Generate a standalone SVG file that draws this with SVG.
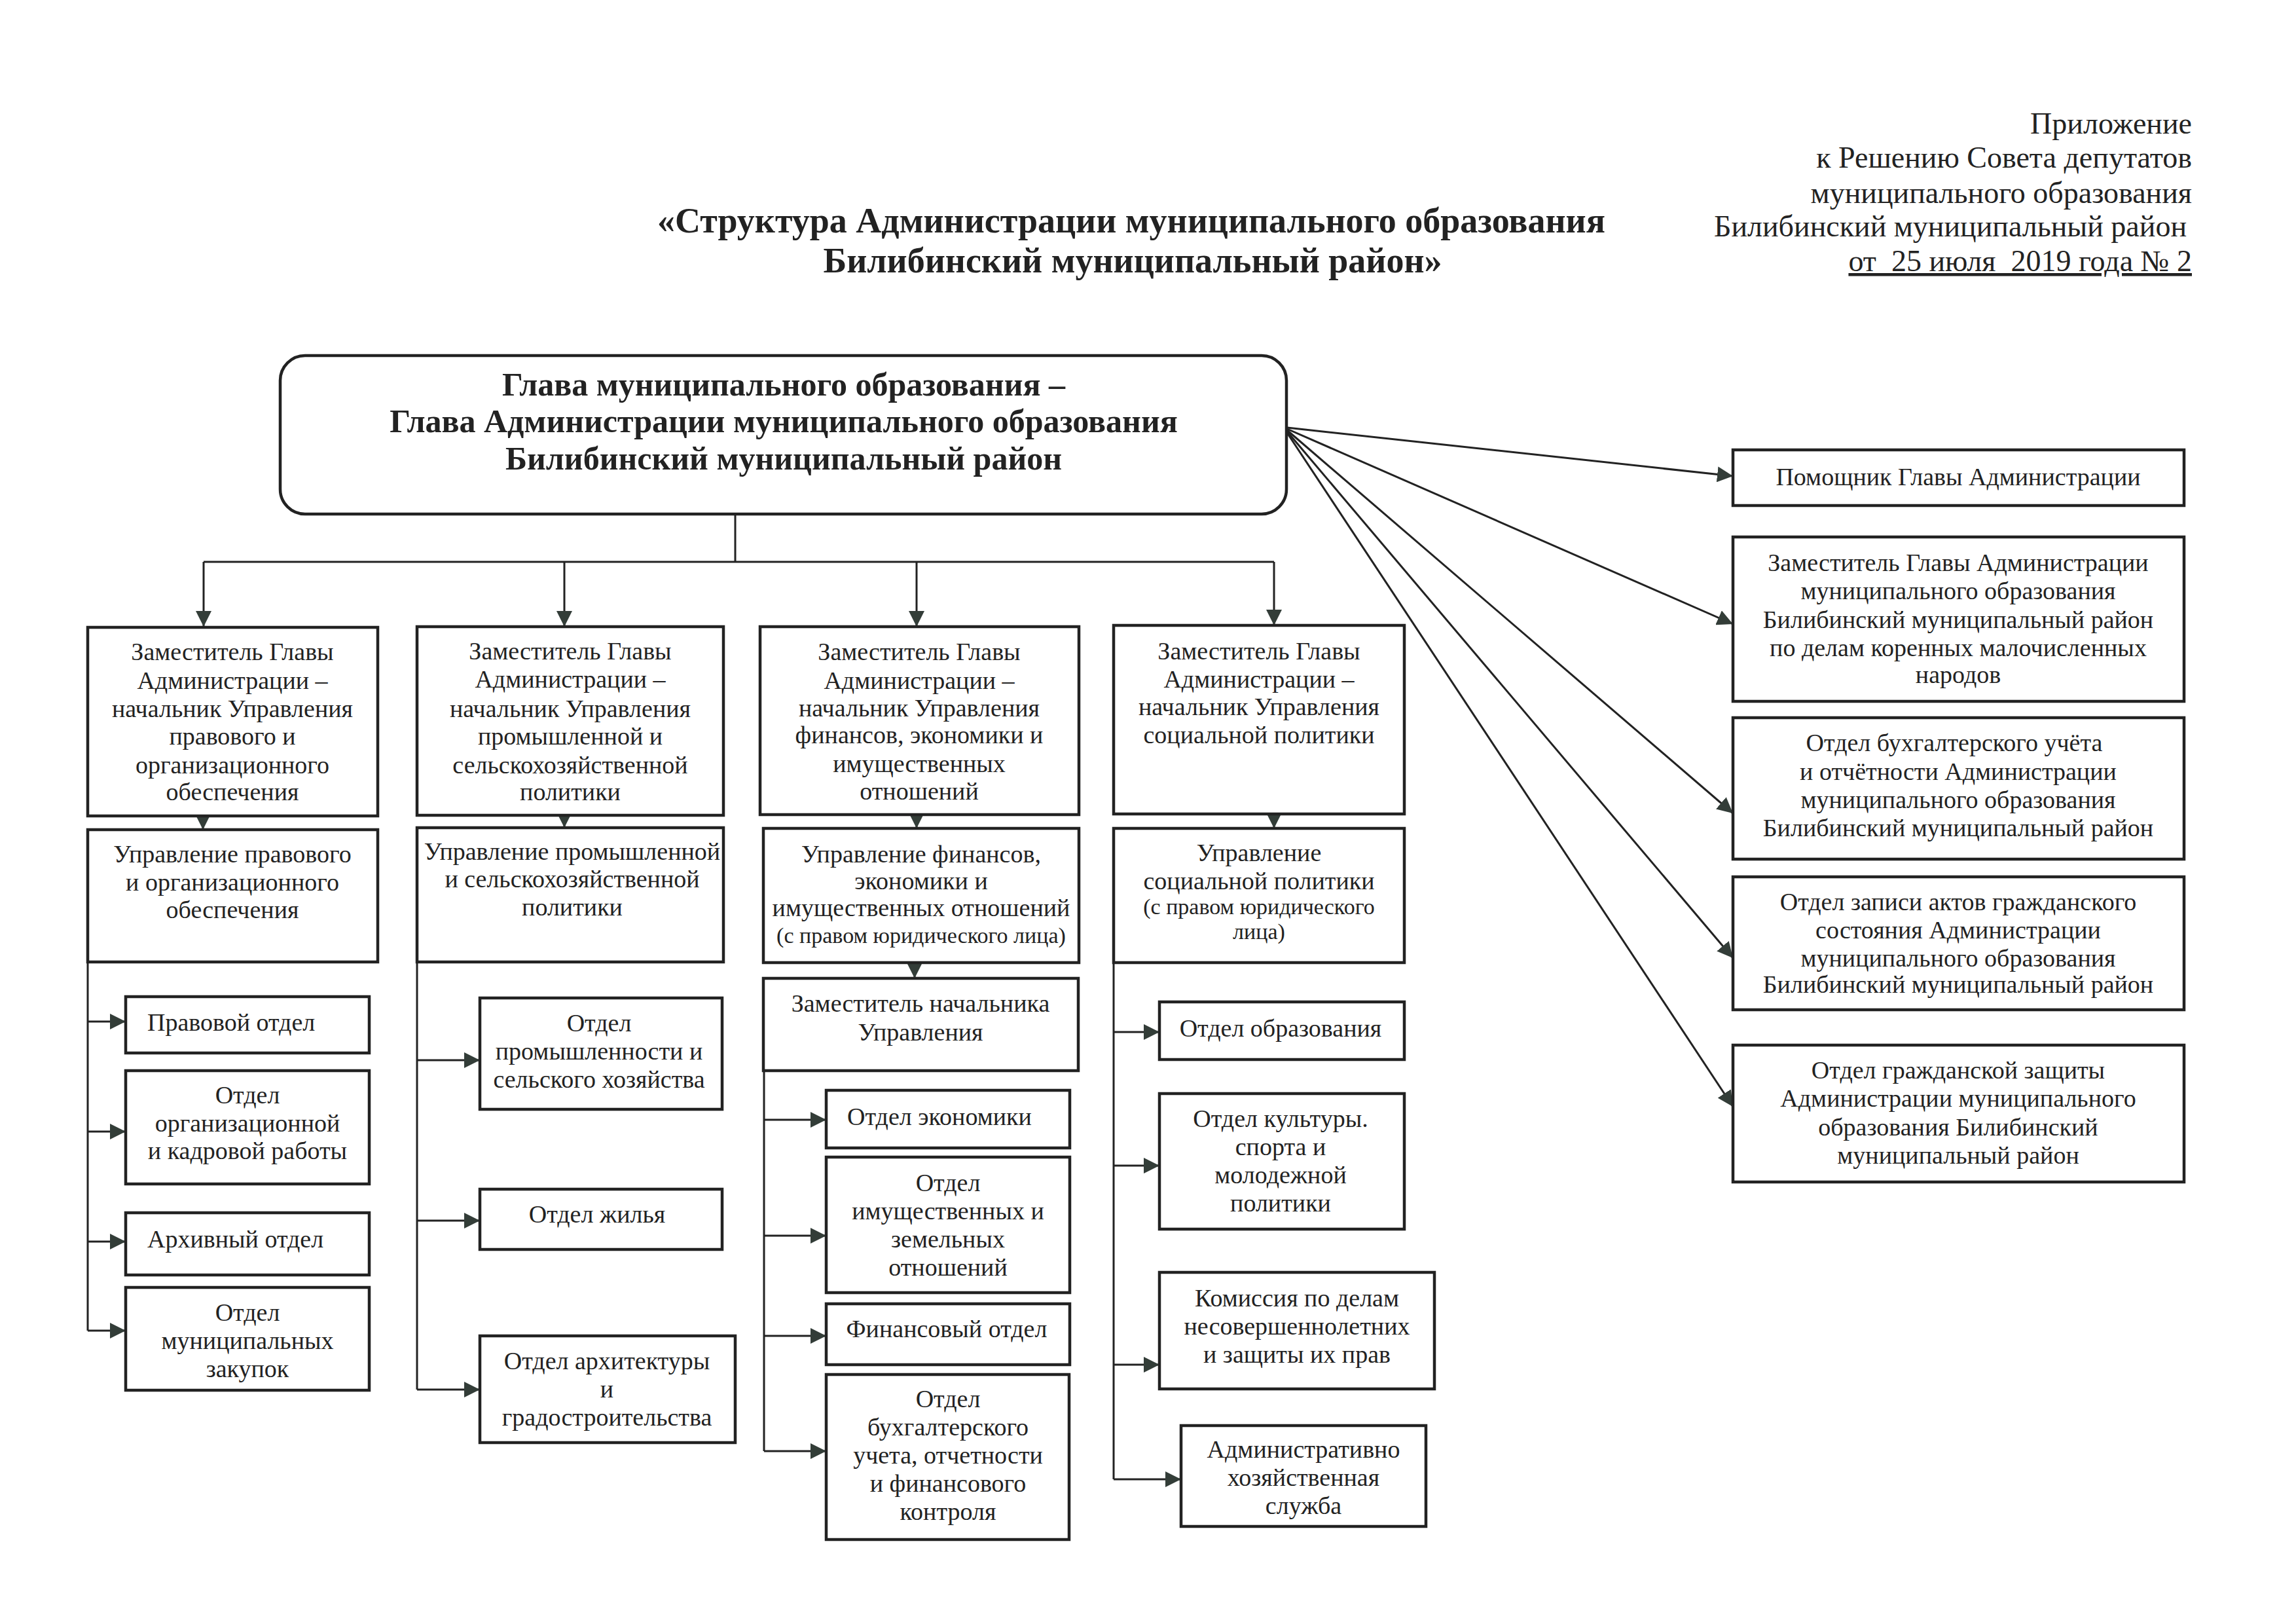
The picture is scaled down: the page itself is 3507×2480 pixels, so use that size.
<svg xmlns="http://www.w3.org/2000/svg" width="3507" height="2480" viewBox="0 0 3507 2480">
<style>
.bg{fill:#ffffff}
.box{fill:#ffffff;stroke:#222;stroke-width:4.5}
.t{font-family:"Liberation Serif","Times New Roman",serif;font-size:38px;fill:#222;text-anchor:middle}
.tl{font-family:"Liberation Serif","Times New Roman",serif;font-size:38px;fill:#222;text-anchor:start}
.ts{font-size:34px}
.hdr{font-family:"Liberation Serif","Times New Roman",serif;font-size:46px;fill:#222;text-anchor:end;white-space:pre}
.title{font-family:"Liberation Serif","Times New Roman",serif;font-size:54px;font-weight:bold;fill:#222;text-anchor:middle}
.head{font-family:"Liberation Serif","Times New Roman",serif;font-size:50px;font-weight:bold;fill:#222;text-anchor:middle}
.c{fill:none;stroke:#222;stroke-width:3}
</style>
<defs>
<marker id="ah" viewBox="0 0 24 24" markerWidth="24" markerHeight="24" markerUnits="userSpaceOnUse" refX="24" refY="12" orient="auto">
<path d="M0,0 L24,12 L0,24 z" fill="#333d38"/>
</marker>
</defs>
<rect class="bg" x="0" y="0" width="3507" height="2480"/>

<g id="header">
<text class="hdr" x="3348" y="204">Приложение</text>
<text class="hdr" x="3348" y="256">к Решению Совета депутатов</text>
<text class="hdr" x="3348" y="310">муниципального образования</text>
<text class="hdr" x="3340" y="361">Билибинский муниципальный район</text>
<text class="hdr" x="3348" y="414" text-decoration="underline">от  25 июля  2019 года № 2</text>
</g>

<g id="title">
<text class="title" x="1728" y="355">«Структура Администрации муниципального образования</text>
<text class="title" x="1730" y="416">Билибинский муниципальный район»</text>
</g>

<g id="connectors">
<path class="c" d="M1123,786 V858"/>
<path class="c" d="M311,858 H1946"/>
<path class="c" d="M311,858 V957" marker-end="url(#ah)"/>
<path class="c" d="M862,858 V957" marker-end="url(#ah)"/>
<path class="c" d="M1400,858 V957" marker-end="url(#ah)"/>
<path class="c" d="M1946,858 V955" marker-end="url(#ah)"/>
<path class="c" d="M310,1240 V1267" marker-end="url(#ah)"/>
<path class="c" d="M862,1240 V1264" marker-end="url(#ah)"/>
<path class="c" d="M1400,1240 V1265" marker-end="url(#ah)"/>
<path class="c" d="M1946,1240 V1265" marker-end="url(#ah)"/>
<path class="c" d="M1397,1466 V1494" marker-end="url(#ah)"/>
<path class="c" d="M134,1469 V2032"/>
<path class="c" d="M134,1560 H192" marker-end="url(#ah)"/>
<path class="c" d="M134,1728 H192" marker-end="url(#ah)"/>
<path class="c" d="M134,1896 H192" marker-end="url(#ah)"/>
<path class="c" d="M134,2032 H192" marker-end="url(#ah)"/>
<path class="c" d="M637,1469 V2122"/>
<path class="c" d="M637,1619 H733" marker-end="url(#ah)"/>
<path class="c" d="M637,1864 H733" marker-end="url(#ah)"/>
<path class="c" d="M637,2122 H733" marker-end="url(#ah)"/>
<path class="c" d="M1167,1635 V2216"/>
<path class="c" d="M1167,1710 H1262" marker-end="url(#ah)"/>
<path class="c" d="M1167,1887 H1262" marker-end="url(#ah)"/>
<path class="c" d="M1167,2040 H1262" marker-end="url(#ah)"/>
<path class="c" d="M1167,2216 H1262" marker-end="url(#ah)"/>
<path class="c" d="M1701,1470 V2259"/>
<path class="c" d="M1701,1576 H1771" marker-end="url(#ah)"/>
<path class="c" d="M1701,1780 H1771" marker-end="url(#ah)"/>
<path class="c" d="M1701,2084 H1771" marker-end="url(#ah)"/>
<path class="c" d="M1701,2259 H1804" marker-end="url(#ah)"/>
<path class="c" d="M1966,653 L2647,727" marker-end="url(#ah)"/>
<path class="c" d="M1966,655 L2647,953" marker-end="url(#ah)"/>
<path class="c" d="M1966,657 L2647,1242" marker-end="url(#ah)"/>
<path class="c" d="M1966,659 L2647,1463" marker-end="url(#ah)"/>
<path class="c" d="M1966,661 L2647,1690" marker-end="url(#ah)"/>
</g>

<g id="head">
<rect class="box" x="428" y="543" width="1537" height="242" rx="38"/>
<text class="head" x="1197" y="604">Глава муниципального образования –</text>
<text class="head" x="1197" y="660">Глава Администрации муниципального образования</text>
<text class="head" x="1197" y="717">Билибинский муниципальный район</text>
</g>

<g id="dep1">
<rect class="box" x="134" y="958" width="443" height="288"/>
<text class="t" x="355"><tspan x="355" y="1008">Заместитель Главы</tspan><tspan x="355" y="1052">Администрации –</tspan><tspan x="355" y="1095">начальник Управления</tspan><tspan x="355" y="1137">правового и</tspan><tspan x="355" y="1181">организационного</tspan><tspan x="355" y="1222">обеспечения</tspan></text>
</g>
<g id="upr1">
<rect class="box" x="134" y="1267" width="443" height="202"/>
<text class="t"><tspan x="355" y="1317">Управление правового</tspan><tspan x="355" y="1360">и организационного</tspan><tspan x="355" y="1402">обеспечения</tspan></text>
</g>
<g id="pravovoy">
<rect class="box" x="192" y="1522" width="372" height="86"/>
<text class="tl" x="225" y="1574">Правовой отдел</text>
</g>
<g id="org">
<rect class="box" x="192" y="1635" width="372" height="173"/>
<text class="t"><tspan x="378" y="1685">Отдел</tspan><tspan x="378" y="1728">организационной</tspan><tspan x="378" y="1770">и кадровой работы</tspan></text>
</g>
<g id="arhiv">
<rect class="box" x="192" y="1852" width="372" height="95"/>
<text class="tl" x="225" y="1905">Архивный отдел</text>
</g>
<g id="zakupki">
<rect class="box" x="192" y="1966" width="372" height="157"/>
<text class="t"><tspan x="378" y="2017">Отдел</tspan><tspan x="378" y="2060">муниципальных</tspan><tspan x="378" y="2103">закупок</tspan></text>
</g>

<g id="dep2">
<rect class="box" x="637" y="957" width="468" height="288"/>
<text class="t"><tspan x="871" y="1007">Заместитель Главы</tspan><tspan x="871" y="1050">Администрации –</tspan><tspan x="871" y="1095">начальник Управления</tspan><tspan x="871" y="1137">промышленной и</tspan><tspan x="871" y="1181">сельскохозяйственной</tspan><tspan x="871" y="1222">политики</tspan></text>
</g>
<g id="upr2">
<rect class="box" x="637" y="1264" width="468" height="205"/>
<text class="t"><tspan x="874" y="1313">Управление промышленной</tspan><tspan x="874" y="1355">и сельскохозяйственной</tspan><tspan x="874" y="1398">политики</tspan></text>
</g>
<g id="prom">
<rect class="box" x="733" y="1524" width="370" height="170"/>
<text class="t"><tspan x="915" y="1575">Отдел</tspan><tspan x="915" y="1618">промышленности и</tspan><tspan x="915" y="1661">сельского хозяйства</tspan></text>
</g>
<g id="zhilye">
<rect class="box" x="733" y="1816" width="370" height="92"/>
<text class="t" x="912" y="1867">Отдел жилья</text>
</g>
<g id="arh">
<rect class="box" x="733" y="2040" width="390" height="163"/>
<text class="t"><tspan x="927" y="2091">Отдел архитектуры</tspan><tspan x="927" y="2134">и</tspan><tspan x="927" y="2177">градостроительства</tspan></text>
</g>

<g id="dep3">
<rect class="box" x="1161" y="957" width="487" height="287"/>
<text class="t"><tspan x="1404" y="1008">Заместитель Главы</tspan><tspan x="1404" y="1052">Администрации –</tspan><tspan x="1404" y="1094">начальник Управления</tspan><tspan x="1404" y="1135">финансов, экономики и</tspan><tspan x="1404" y="1179">имущественных</tspan><tspan x="1404" y="1221">отношений</tspan></text>
</g>
<g id="upr3">
<rect class="box" x="1166" y="1265" width="482" height="205"/>
<text class="t"><tspan x="1407" y="1317">Управление финансов,</tspan><tspan x="1407" y="1358">экономики и</tspan><tspan x="1407" y="1399">имущественных отношений</tspan><tspan x="1407" y="1440" class="ts">(с правом юридического лица)</tspan></text>
</g>
<g id="zamnach">
<rect class="box" x="1166" y="1494" width="481" height="141"/>
<text class="t"><tspan x="1406" y="1545">Заместитель начальника</tspan><tspan x="1406" y="1589">Управления</tspan></text>
</g>
<g id="econ">
<rect class="box" x="1262" y="1665" width="372" height="88"/>
<text class="t" x="1435" y="1718">Отдел экономики</text>
</g>
<g id="imush">
<rect class="box" x="1262" y="1767" width="372" height="207"/>
<text class="t"><tspan x="1448" y="1819">Отдел</tspan><tspan x="1448" y="1862">имущественных и</tspan><tspan x="1448" y="1905">земельных</tspan><tspan x="1448" y="1948">отношений</tspan></text>
</g>
<g id="fin">
<rect class="box" x="1262" y="1991" width="372" height="93"/>
<text class="t" x="1446" y="2042">Финансовый отдел</text>
</g>
<g id="buh3">
<rect class="box" x="1262" y="2099" width="371" height="252"/>
<text class="t"><tspan x="1448" y="2149">Отдел</tspan><tspan x="1448" y="2192">бухгалтерского</tspan><tspan x="1448" y="2235">учета, отчетности</tspan><tspan x="1448" y="2278">и финансового</tspan><tspan x="1448" y="2321">контроля</tspan></text>
</g>

<g id="dep4">
<rect class="box" x="1701" y="955" width="444" height="288"/>
<text class="t"><tspan x="1923" y="1007">Заместитель Главы</tspan><tspan x="1923" y="1050">Администрации –</tspan><tspan x="1923" y="1092">начальник Управления</tspan><tspan x="1923" y="1135">социальной политики</tspan></text>
</g>
<g id="upr4">
<rect class="box" x="1701" y="1265" width="444" height="205"/>
<text class="t"><tspan x="1923" y="1315">Управление</tspan><tspan x="1923" y="1358">социальной политики</tspan><tspan x="1923" y="1396" class="ts">(с правом юридического</tspan><tspan x="1923" y="1434" class="ts">лица)</tspan></text>
</g>
<g id="obr">
<rect class="box" x="1771" y="1530" width="374" height="88"/>
<text class="t" x="1956" y="1583">Отдел образования</text>
</g>
<g id="kult">
<rect class="box" x="1771" y="1670" width="374" height="207"/>
<text class="t"><tspan x="1956" y="1721">Отдел культуры.</tspan><tspan x="1956" y="1764">спорта и</tspan><tspan x="1956" y="1807">молодежной</tspan><tspan x="1956" y="1850">политики</tspan></text>
</g>
<g id="kdn">
<rect class="box" x="1771" y="1943" width="420" height="178"/>
<text class="t"><tspan x="1981" y="1995">Комиссия по делам</tspan><tspan x="1981" y="2038">несовершеннолетних</tspan><tspan x="1981" y="2081">и защиты их прав</tspan></text>
</g>
<g id="ahs">
<rect class="box" x="1804" y="2177" width="374" height="154"/>
<text class="t"><tspan x="1991" y="2226">Административно</tspan><tspan x="1991" y="2269">хозяйственная</tspan><tspan x="1991" y="2312">служба</tspan></text>
</g>

<g id="pomoshnik">
<rect class="box" x="2647" y="687" width="689" height="85"/>
<text class="t" x="2991" y="741">Помощник Главы Администрации</text>
</g>
<g id="zamkmns">
<rect class="box" x="2647" y="820" width="689" height="251"/>
<text class="t"><tspan x="2991" y="872">Заместитель Главы Администрации</tspan><tspan x="2991" y="915">муниципального образования</tspan><tspan x="2991" y="959">Билибинский муниципальный район</tspan><tspan x="2991" y="1002">по делам коренных малочисленных</tspan><tspan x="2991" y="1043">народов</tspan></text>
</g>
<g id="buh">
<rect class="box" x="2647" y="1096" width="689" height="216"/>
<text class="t"><tspan x="2985" y="1147">Отдел бухгалтерского учёта</tspan><tspan x="2991" y="1191">и отчётности Администрации</tspan><tspan x="2991" y="1234">муниципального образования</tspan><tspan x="2991" y="1277">Билибинский муниципальный район</tspan></text>
</g>
<g id="zags">
<rect class="box" x="2647" y="1339" width="689" height="203"/>
<text class="t"><tspan x="2991" y="1390">Отдел записи актов гражданского</tspan><tspan x="2991" y="1433">состояния Администрации</tspan><tspan x="2991" y="1476">муниципального образования</tspan><tspan x="2991" y="1516">Билибинский муниципальный район</tspan></text>
</g>
<g id="gz">
<rect class="box" x="2647" y="1596" width="689" height="209"/>
<text class="t"><tspan x="2991" y="1647">Отдел гражданской защиты</tspan><tspan x="2991" y="1690">Администрации муниципального</tspan><tspan x="2991" y="1734">образования Билибинский</tspan><tspan x="2991" y="1777">муниципальный район</tspan></text>
</g>
</svg>
